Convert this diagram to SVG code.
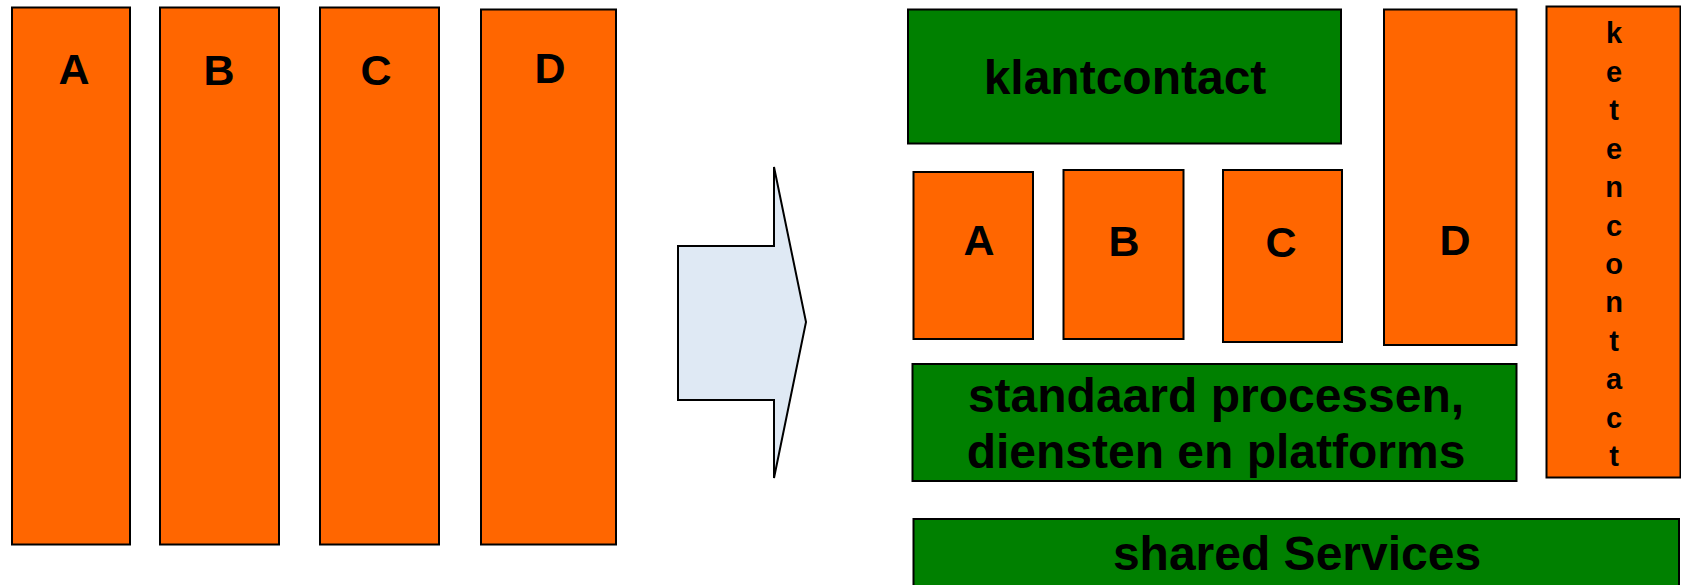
<svg xmlns="http://www.w3.org/2000/svg" width="1681" height="585" viewBox="0 0 1681 585">
<style>
.o{fill:#FF6600;stroke:#000;stroke-width:2}
.g{fill:#008000;stroke:#000;stroke-width:2}
.t{font-family:"Liberation Sans",Arial,sans-serif;font-weight:bold;fill:#000;text-anchor:middle}
.l{font-size:43px}
.b{font-size:48px}
.k{font-size:29px}
</style>
<rect width="1681" height="585" fill="#fff"/>
<g id="left-A"><rect class="o" x="12" y="7.5" width="118" height="537"/><text class="t l" x="74" y="84">A</text></g>
<g id="left-B"><rect class="o" x="160" y="7.5" width="119" height="537"/><text class="t l" x="219" y="85">B</text></g>
<g id="left-C"><rect class="o" x="320" y="7.5" width="119" height="537"/><text class="t l" x="376" y="85">C</text></g>
<g id="left-D"><rect class="o" x="481" y="9.5" width="135" height="535"/><text class="t l" x="550" y="83">D</text></g>
<g id="connectors">
<polygon points="678,246 774,246 774,167 806,322 774,478 774,400 678,400" fill="#DFE9F4" stroke="#000" stroke-width="2"/>
</g>
<g id="klantcontact"><rect class="g" x="908" y="9.5" width="433" height="134"/><text class="t b" x="1125" y="94">klantcontact</text></g>
<g id="right-A"><rect class="o" x="913.5" y="172" width="119.5" height="167"/><text class="t l" x="979" y="255">A</text></g>
<g id="right-B"><rect class="o" x="1063.5" y="170" width="120" height="169"/><text class="t l" x="1124" y="256">B</text></g>
<g id="right-C"><rect class="o" x="1223" y="170" width="119" height="172"/><text class="t l" x="1281" y="256.5">C</text></g>
<g id="right-D"><rect class="o" x="1384" y="9.5" width="132.5" height="335.5"/><text class="t l" x="1455" y="255">D</text></g>
<g id="ketencontact"><rect class="o" x="1546.5" y="6.5" width="134" height="471"/>
<text class="t k"><tspan x="1614" y="43.3">k</tspan><tspan x="1614" y="81.8">e</tspan><tspan x="1614" y="120.2">t</tspan><tspan x="1614" y="158.6">e</tspan><tspan x="1614" y="197.1">n</tspan><tspan x="1614" y="235.5">c</tspan><tspan x="1614" y="274">o</tspan><tspan x="1614" y="312.4">n</tspan><tspan x="1614" y="350.9">t</tspan><tspan x="1614" y="389.3">a</tspan><tspan x="1614" y="427.8">c</tspan><tspan x="1614" y="466.2">t</tspan></text></g>
<g id="standaard"><rect class="g" x="912.5" y="364" width="604" height="117"/><text class="t b"><tspan x="1216" y="411.5">standaard processen,</tspan><tspan x="1216" y="468.3">diensten en platforms</tspan></text></g>
<g id="shared"><rect class="g" x="913.5" y="519" width="765.5" height="80"/><text class="t b" x="1297" y="570">shared Services</text></g>
</svg>
